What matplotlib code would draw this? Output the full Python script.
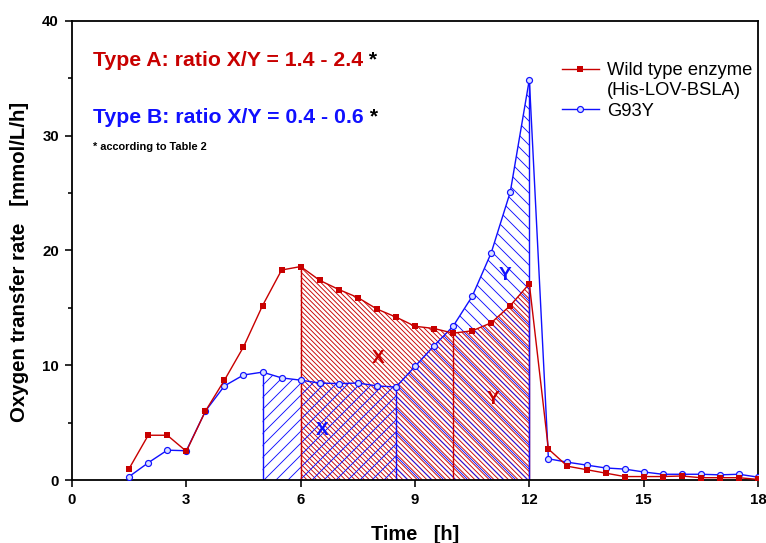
import numpy as np
import matplotlib.pyplot as plt
from matplotlib.lines import Line2D
from matplotlib.ticker import MultipleLocator

# zeit in h, OTR in mmol/L/h
time = [1.5, 2.0, 2.5, 3.0, 3.5, 4.0, 4.5, 5.0, 5.5, 6.0, 6.5, 7.0, 7.5, 8.0, 8.5,
        9.0, 9.5, 10.0, 10.5, 11.0, 11.5, 12.0, 12.5, 13.0, 13.5, 14.0, 14.5, 15.0,
        15.5, 16.0, 16.5, 17.0, 17.5, 18.0]
otr_wt = [1.0, 3.9, 3.9, 2.5, 6.0, 8.7, 11.6, 15.2, 18.3, 18.6, 17.4, 16.6, 15.9, 14.9, 14.2,
          13.4, 13.2, 12.8, 13.0, 13.7, 15.2, 17.1, 2.7, 1.2, 0.9, 0.6, 0.3, 0.3,
          0.3, 0.35, 0.2, 0.2, 0.2, 0.05]
otr_g93y = [0.3, 1.5, 2.6, 2.55, 6.0, 8.2, 9.15, 9.4, 8.9, 8.7, 8.45, 8.4, 8.45, 8.2, 8.1,
            9.9, 11.7, 13.4, 16.0, 19.8, 25.1, 34.9, 1.85, 1.55, 1.3, 1.05, 0.95, 0.7,
            0.5, 0.5, 0.5, 0.45, 0.5, 0.25]

# Phasengrenzen (X / Y)
grenzen_wt = [6.0, 10.0, 12.0]
grenzen_g93y = [5.0, 8.5, 12.0]

rot = '#c80000'
blau = '#1010ff'

plt.rcParams['font.family'] = ['Liberation Sans', 'DejaVu Sans']
plt.rcParams['hatch.linewidth'] = 0.45

t = np.array(time)
wt = np.array(otr_wt)
g = np.array(otr_g93y)

fig = plt.figure(figsize=(766 / 144, 543 / 144), dpi=144)
ax = fig.add_axes([72 / 766, 63 / 543, 686 / 766, 459 / 543])

# schraffierte Flaechen
def flaeche(y, a, b, farbe, muster):
    m = (t >= a) & (t <= b)
    ax.fill_between(t[m], 0, y[m], facecolor='none', edgecolor=farbe, hatch=muster, linewidth=0, zorder=1)

flaeche(wt, grenzen_wt[0], grenzen_wt[1], rot, '\\' * 10)
flaeche(wt, grenzen_wt[1], grenzen_wt[2], rot, '\\' * 10)
flaeche(g, grenzen_g93y[0], grenzen_g93y[1], blau, '////')
flaeche(g, grenzen_g93y[1], grenzen_g93y[2], blau, '\\' * 4)

for x in grenzen_wt:
    ax.vlines(x, 0, wt[t == x][0], color=rot, lw=0.7, zorder=2)
for x in grenzen_g93y:
    ax.vlines(x, 0, g[t == x][0], color=blau, lw=0.7, zorder=2)

l1, = ax.plot(t, wt, color=rot, lw=0.7, marker='s', ms=2.0, mfc=rot, mec=rot, zorder=4)
l2, = ax.plot(t, g, color=blau, lw=0.7, marker='o', ms=3.0, mfc='#d8e0ff', mec=blau, mew=0.6, zorder=3)

ax.text(8.03, 10.6, 'X', color=rot, fontsize=9.5, fontweight='bold', ha='center', va='center', zorder=5)
ax.text(6.56, 4.3, 'X', color=blau, fontsize=9.5, fontweight='bold', ha='center', va='center', zorder=5)
ax.text(11.05, 7.0, 'Y', color=rot, fontsize=9.5, fontweight='bold', ha='center', va='center', zorder=5)
ax.text(11.36, 17.8, 'Y', color=blau, fontsize=9.5, fontweight='bold', ha='center', va='center', zorder=5)

ta = ax.text(0.55, 36.6, 'Type A: ratio X/Y = 1.4 - 2.4', color=rot, fontsize=10.6, fontweight='bold', va='center')
ax.annotate(' *', xy=(1, 0.5), xycoords=ta, color='black', fontsize=10.6, fontweight='bold', va='center')
tb = ax.text(0.55, 31.6, 'Type B: ratio X/Y = 0.4 - 0.6', color=blau, fontsize=10.6, fontweight='bold', va='center')
ax.annotate(' *', xy=(1, 0.5), xycoords=tb, color='black', fontsize=10.6, fontweight='bold', va='center')
ax.text(0.55, 29.0, '* according to Table 2', color='black', fontsize=5.5, fontweight='bold', va='center')

ax.set_xlim(0, 18)
ax.set_ylim(0, 40)
ax.xaxis.set_major_locator(MultipleLocator(3))
ax.yaxis.set_major_locator(MultipleLocator(10))
ax.yaxis.set_minor_locator(MultipleLocator(5))
ax.tick_params(which='major', direction='out', length=3.5, width=0.8, labelsize=7.5, pad=3)
ax.tick_params(which='minor', direction='out', length=2.2, width=0.8)
for lab in ax.get_xticklabels() + ax.get_yticklabels():
    lab.set_fontweight('bold')
for s in ax.spines.values():
    s.set_linewidth(0.9)

ax.set_xlabel('Time   [h]', fontsize=10, fontweight='bold', labelpad=9)
ax.set_ylabel('Oxygen transfer rate   [mmol/L/h]', fontsize=10.2, fontweight='bold')
ax.yaxis.set_label_coords(-0.062, 0.475)

# zweite Zeile der WT-Beschriftung als leerer Eintrag
leer = Line2D([], [], color='none')
ax.legend([l1, leer, l2], ['Wild type enzyme', '(His-LOV-BSLA)', 'G93Y'],
          loc='upper right', bbox_to_anchor=(1.008, 0.934), frameon=False, fontsize=9.2,
          handlelength=2.0, handletextpad=0.45, labelspacing=0.17, borderaxespad=0.2)

fig.savefig('out.png', dpi=144)
